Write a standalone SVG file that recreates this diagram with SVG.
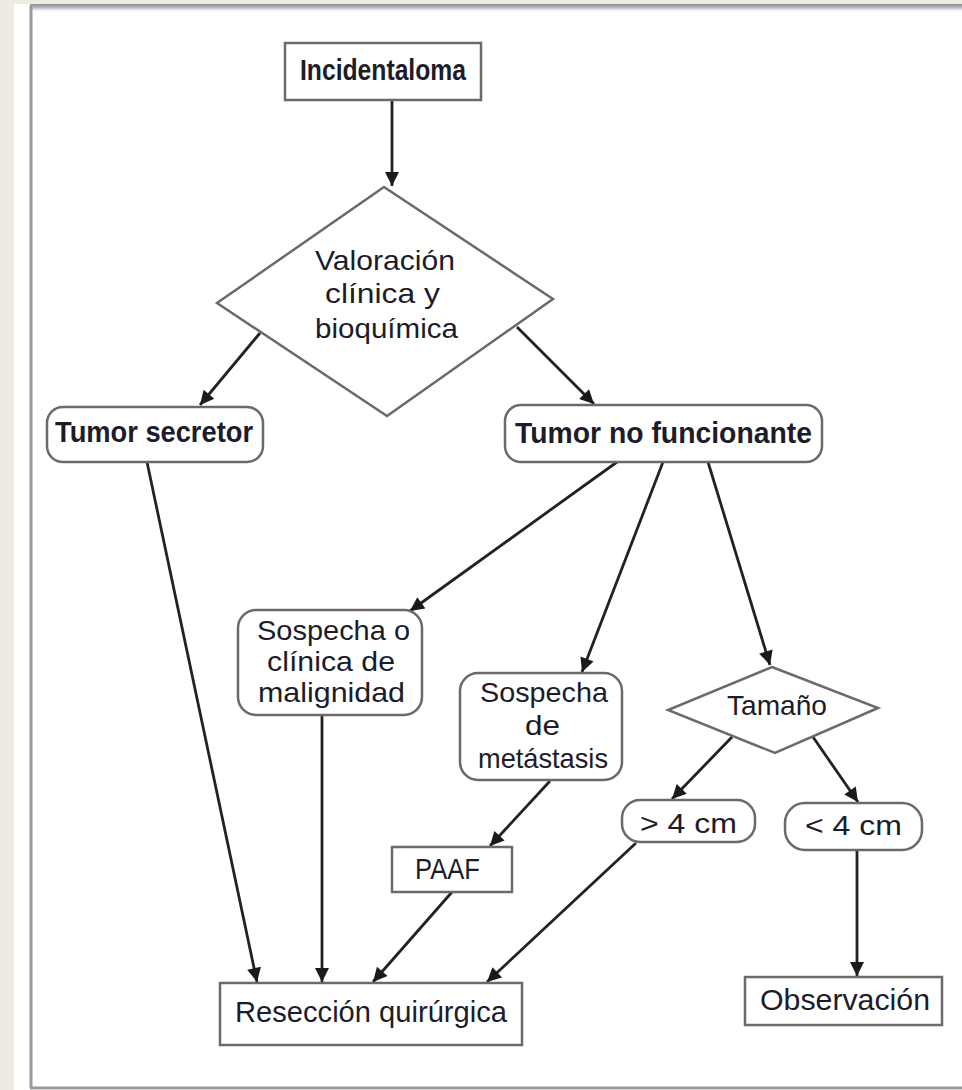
<svg xmlns="http://www.w3.org/2000/svg" width="962" height="1090" viewBox="0 0 962 1090">
<defs>
<marker id="ah" viewBox="0 0 10 10" refX="10" refY="5" markerWidth="18" markerHeight="14" markerUnits="userSpaceOnUse" orient="auto">
<path d="M0,0 L10,5 L0,10 z" fill="#1a1a1a"/>
</marker>
<linearGradient id="topg" x1="0" y1="0" x2="0" y2="1">
<stop offset="0" stop-color="#8e8e92"/>
<stop offset="0.5" stop-color="#b8b8bc"/>
<stop offset="1" stop-color="#ffffff"/>
</linearGradient>
<style>
.box{fill:#fff;stroke:#6a6a6a;stroke-width:2.5}
.t{font-family:"Liberation Sans",Arial,sans-serif;font-size:30px;fill:#1c1c2a}
.b{font-weight:bold}
.s{font-size:28px}
.c{stroke:#222;stroke-width:2.8;fill:none;marker-end:url(#ah)}
</style>
</defs>
<rect x="0" y="0" width="962" height="1090" fill="#eeebe3"/>
<rect x="14" y="4" width="948" height="1086" fill="#fff"/>
<rect x="30" y="4" width="932" height="7" fill="url(#topg)"/>
<line x1="31" y1="6" x2="31" y2="1088" stroke="#9a9a9a" stroke-width="3"/>
<line x1="30" y1="1088" x2="962" y2="1088" stroke="#9a9a9a" stroke-width="3"/>

<g id="connectors">
<line class="c" x1="392" y1="100" x2="392" y2="186"/>
<line class="c" x1="260" y1="333" x2="200" y2="405"/>
<line class="c" x1="517" y1="327" x2="594" y2="404"/>
<line class="c" x1="147" y1="462" x2="257" y2="982"/>
<line class="c" x1="617" y1="462" x2="410" y2="611"/>
<line class="c" x1="663" y1="462" x2="582" y2="672"/>
<line class="c" x1="708" y1="462" x2="770" y2="665"/>
<line class="c" x1="322" y1="715" x2="322" y2="982"/>
<line class="c" x1="550" y1="781" x2="490" y2="846"/>
<line class="c" x1="452" y1="892" x2="373" y2="982"/>
<line class="c" x1="636" y1="843" x2="487" y2="982"/>
<line class="c" x1="732" y1="737" x2="672" y2="799"/>
<line class="c" x1="813" y1="737" x2="858" y2="802"/>
<line class="c" x1="857" y1="850" x2="857" y2="976"/>
</g>

<g id="incidentaloma">
<rect class="box" x="285" y="43" width="196" height="57"/>
<text class="t b" x="300" y="80" textLength="166" lengthAdjust="spacingAndGlyphs">Incidentaloma</text>
</g>
<g id="valoracion">
<polygon class="box" points="384,187 553,299 387,416 217,303"/>
<text class="t s" x="315" y="270" textLength="140" lengthAdjust="spacingAndGlyphs">Valoración</text>
<text class="t s" x="325" y="303" textLength="115" lengthAdjust="spacingAndGlyphs">clínica y</text>
<text class="t s" x="315" y="338" textLength="143" lengthAdjust="spacingAndGlyphs">bioquímica</text>
</g>
<g id="tumor-secretor">
<rect class="box" x="47" y="407" width="216" height="55" rx="16"/>
<text class="t b" x="55" y="442" textLength="198" lengthAdjust="spacingAndGlyphs">Tumor secretor</text>
</g>
<g id="tumor-no-funcionante">
<rect class="box" x="505" y="405" width="317" height="57" rx="16"/>
<text class="t b" x="515" y="443" textLength="297" lengthAdjust="spacingAndGlyphs">Tumor no funcionante</text>
</g>
<g id="sospecha-malignidad">
<rect class="box" x="238" y="610" width="184" height="105" rx="18"/>
<text class="t s" x="257" y="640" textLength="153" lengthAdjust="spacingAndGlyphs">Sospecha o</text>
<text class="t s" x="267" y="671" textLength="128" lengthAdjust="spacingAndGlyphs">clínica de</text>
<text class="t s" x="258" y="702" textLength="147" lengthAdjust="spacingAndGlyphs">malignidad</text>
</g>
<g id="sospecha-metastasis">
<rect class="box" x="460" y="673" width="162" height="107" rx="18"/>
<text class="t s" x="480" y="702" textLength="128" lengthAdjust="spacingAndGlyphs">Sospecha</text>
<text class="t s" x="525" y="735" textLength="35" lengthAdjust="spacingAndGlyphs">de</text>
<text class="t s" x="478" y="768" textLength="130" lengthAdjust="spacingAndGlyphs">metástasis</text>
</g>
<g id="tamano">
<polygon class="box" points="772,667 878,708 775,753 668,710"/>
<text class="t s" x="727" y="715" textLength="100" lengthAdjust="spacingAndGlyphs">Tamaño</text>
</g>
<g id="mayor-4">
<rect class="box" x="622" y="800" width="133" height="42" rx="18"/>
<text class="t s" x="640" y="833" textLength="97" lengthAdjust="spacingAndGlyphs">&gt; 4 cm</text>
</g>
<g id="menor-4">
<rect class="box" x="785" y="803" width="137" height="47" rx="20"/>
<text class="t s" x="805" y="835" textLength="97" lengthAdjust="spacingAndGlyphs">&lt; 4 cm</text>
</g>
<g id="paaf">
<rect class="box" x="392" y="847" width="120" height="45"/>
<text class="t" x="415" y="879" textLength="65" lengthAdjust="spacingAndGlyphs">PAAF</text>
</g>
<g id="reseccion">
<rect class="box" x="220" y="983" width="302" height="62"/>
<text class="t" x="235" y="1022" textLength="272" lengthAdjust="spacingAndGlyphs">Resección quirúrgica</text>
</g>
<g id="observacion">
<rect class="box" x="745" y="977" width="197" height="48"/>
<text class="t" x="760" y="1010" textLength="170" lengthAdjust="spacingAndGlyphs">Observación</text>
</g>
</svg>
